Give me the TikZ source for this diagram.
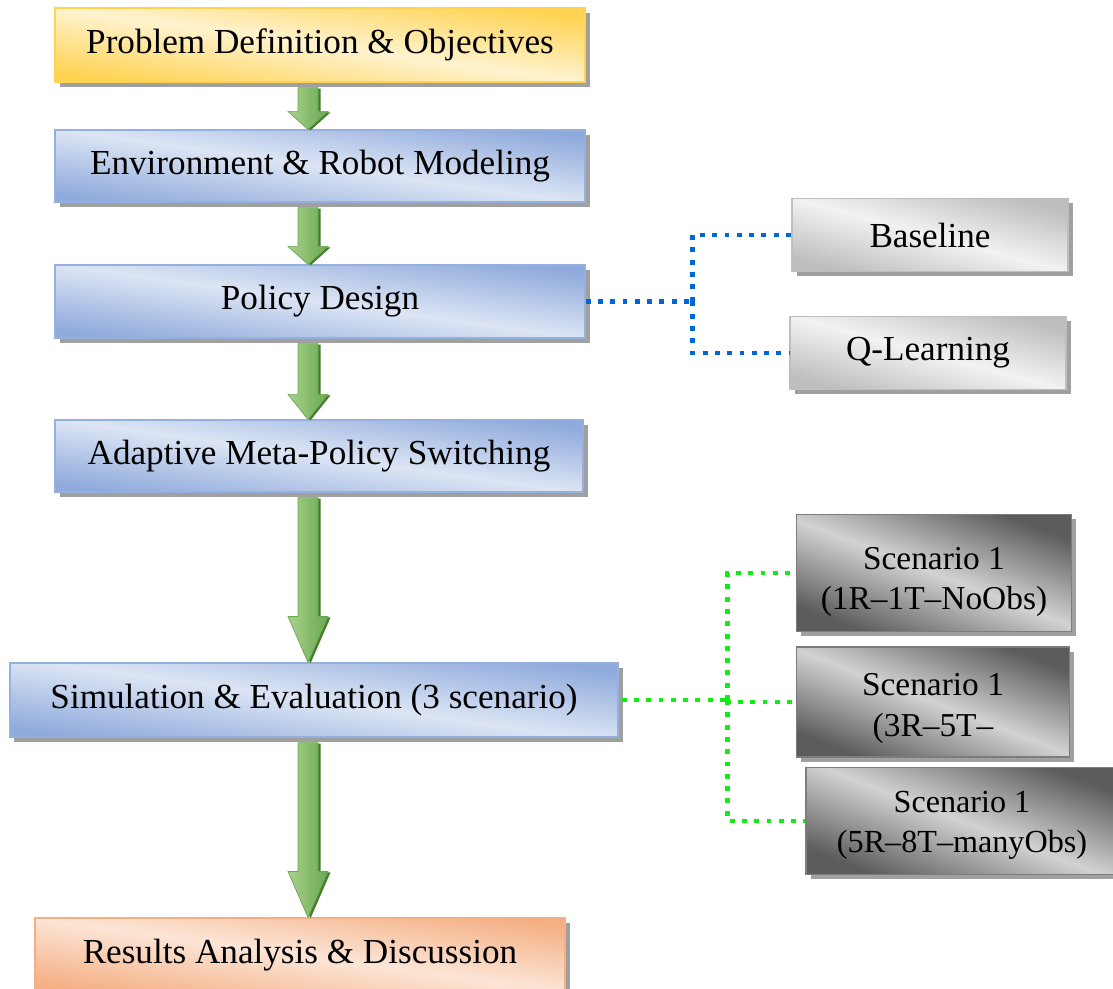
\documentclass[tikz,border=0pt]{standalone}
\usepackage{fontspec}
\setmainfont{Liberation Serif}
\usetikzlibrary{calc,shadows}

\definecolor{bluedark}{RGB}{143,170,220}
\definecolor{bluelight}{RGB}{220,229,244}
\definecolor{blueline}{RGB}{150,176,222}
\definecolor{yellowdark}{RGB}{255,210,80}
\definecolor{yellowlight}{RGB}{255,243,207}
\definecolor{orangedark}{RGB}{244,176,132}
\definecolor{orangelight}{RGB}{252,229,214}
\definecolor{greydark}{RGB}{190,190,190}
\definecolor{greylight}{RGB}{242,242,242}
\definecolor{slatedark}{RGB}{92,92,92}
\definecolor{slatelight}{RGB}{210,210,210}
\definecolor{shadowgrey}{RGB}{160,160,160}
\definecolor{arrowlight}{RGB}{169,209,142}
\definecolor{arrowdark}{RGB}{106,168,79}
\definecolor{arrowedge}{RGB}{70,125,45}
\definecolor{linkblue}{RGB}{0,102,214}
\definecolor{linkgreen}{RGB}{20,235,20}

\tikzset{
  box/.style={draw, line width=0.7pt, inner sep=0pt, align=center,
    font=\fontsize{20}{24}\selectfont,
    drop shadow={shadow xshift=0.09cm, shadow yshift=-0.09cm, fill=shadowgrey, opacity=1}},
  stagebox/.style={box, draw=blueline, top color=bluedark, bottom color=bluedark,
    middle color=bluelight, shading angle=-8},
  startbox/.style={box, draw=yellowdark, top color=yellowdark, bottom color=yellowdark,
    middle color=yellowlight, shading angle=-8},
  endbox/.style={box, draw=orangedark, top color=orangedark, bottom color=orangedark,
    middle color=orangelight, shading angle=-8},
  methodbox/.style={box, draw=greydark, top color=greydark, bottom color=greydark,
    middle color=greylight, shading angle=-15, minimum width=5.52cm, minimum height=1.46cm},
  casebox/.style={box, draw=slatedark!80, top color=slatedark, bottom color=slatedark,
    middle color=slatelight, shading angle=-21, font=\fontsize{19}{23}\selectfont},
  flowarrow/.style={left color=arrowlight, right color=arrowdark, draw=arrowdark, line width=0.4pt,
    drop shadow={shadow xshift=0.05cm, shadow yshift=-0.02cm, fill=arrowedge, opacity=1}},
  bluelink/.style={draw=linkblue, line width=2.8pt, dash pattern=on 2.8pt off 4.2pt},
  greenlink/.style={draw=linkgreen, line width=2.8pt, dash pattern=on 2.8pt off 4.2pt}
}

\begin{document}
\begin{tikzpicture}
  \clip (0,0) rectangle (22.26,-19.76);
  \fill[white] (0,0) rectangle (22.26,-19.76);

  % main flow
  \node[startbox, minimum width=10.6cm, minimum height=1.48cm] (prob) at (6.4,-0.9) {Problem Definition \& Objectives};
  \node[stagebox, minimum width=10.6cm, minimum height=1.44cm] (env) at (6.4,-3.32) {Environment \& Robot Modeling};
  \node[stagebox, minimum width=10.6cm, minimum height=1.46cm] (pol) at (6.4,-6.03) {Policy Design};
  \node[stagebox, minimum width=10.56cm, minimum height=1.44cm] (meta) at (6.38,-9.12) {Adaptive Meta-Policy Switching};
  \node[stagebox, minimum width=12.16cm, minimum height=1.48cm] (sim) at (6.28,-14.0) {Simulation \& Evaluation (3 scenario)};
  \node[endbox, minimum width=10.6cm, minimum height=1.48cm] (res) at (6.0,-19.1) {Results Analysis \& Discussion};

  % policies
  \node[methodbox] (base) at (18.6,-4.7) {Baseline};
  \node[methodbox] (qlearn) at (18.56,-7.06) {Q-Learning};

  % scenarios
  \node[casebox, minimum width=5.5cm, minimum height=2.34cm] (scA) at (18.68,-11.46) {\rule{0pt}{0.8cm}Scenario 1\\(1R–1T–NoObs)};
  \node[casebox, minimum width=5.46cm, minimum height=2.2cm] (scB) at (18.66,-14.04) {\rule{0pt}{0.7cm}Scenario 1\\(3R–5T–};
  \node[casebox, minimum width=6.24cm, minimum height=2.14cm, font=\fontsize{18.3}{23}\selectfont] (scC) at (19.24,-16.42) {\rule{0pt}{0.6cm}Scenario 1\\(5R–8T–manyObs)};

  \foreach \u/\v/\hl in {prob/env/0.36, env/pol/0.36, pol/meta/0.5, meta/sim/0.92, sim/res/0.92}
    \path[flowarrow] let \p1=(\u.south), \p2=(\v.north) in
      (5.96,\y1-0.1cm) -- (5.96,\y2+\hl cm) -- (5.76,\y2+\hl cm) -- (6.16,\y2)
      -- (6.56,\y2+\hl cm) -- (6.36,\y2+\hl cm) -- (6.36,\y1-0.1cm) -- cycle;

  \coordinate (polsplit) at ($(pol.east)+(2.14,0)$);
  \draw[bluelink] (pol.east) -- (polsplit);
  \draw[bluelink] (polsplit) |- (base.west);
  \draw[bluelink] (polsplit) |- (qlearn.west);

  \coordinate (simsplit) at ($(sim.east)+(2.18,0)$);
  \draw[greenlink] ($(sim.east)+(0.06,0)$) -- (simsplit);
  \draw[greenlink] (simsplit) |- (scA.west);
  \draw[greenlink] (simsplit) |- (scB.west);
  \draw[greenlink] (simsplit) |- (scC.west);
\end{tikzpicture}
\end{document}
